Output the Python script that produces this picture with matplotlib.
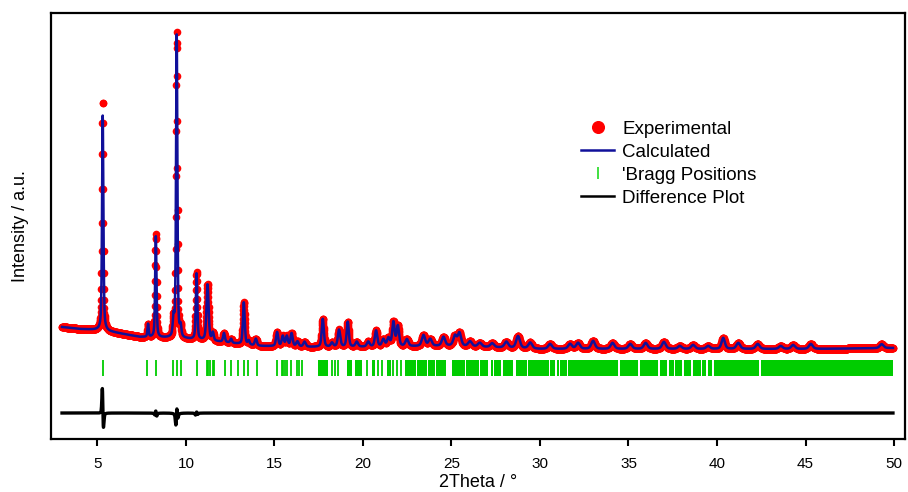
import numpy as np
import matplotlib
matplotlib.use('Agg')
import matplotlib.pyplot as plt
from matplotlib.lines import Line2D

plt.rcParams['font.family'] = ['Liberation Sans', 'DejaVu Sans']

# scan of the measurement (2theta / deg)
scan_start = 3.0
scan_end = 49.94
scan_step = 0.01

# refined background, anchor points
bg_pos = [3, 4, 5, 5.5, 7.4, 9, 10, 12, 14, 17, 20, 25, 30, 35, 40, 45, 50]
bg_int = [112, 110, 109, 108, 102, 101, 100, 97, 93, 92, 92, 93, 90, 90, 90, 90, 91]

# reflections: position, calculated height, fwhm
peak_pos = [5.30, 7.86, 8.30, 9.30, 9.48, 9.70, 10.60, 11.22, 11.52, 12.15,
            12.55, 13.27, 13.55, 13.95, 15.15, 15.47, 15.70, 15.97, 16.30, 16.70,
            17.73, 18.25, 18.65, 19.14, 19.65, 20.30, 20.74, 21.15, 21.44, 21.72,
            21.97, 22.48, 23.42, 23.80, 24.55, 25.20, 25.45, 26.05, 26.60, 27.30,
            28.10, 28.76, 29.45, 30.57, 31.70, 32.15, 33.00, 34.10, 35.10, 35.97,
            37.00, 37.90, 38.65, 39.50, 40.35, 41.20, 42.30, 43.60, 44.30, 45.30,
            49.30]
peak_height = [215, 13, 101, 18, 303, 10, 66, 56, 8, 9,
               4, 42, 4, 7, 14, 10, 10, 13, 5, 5,
               28, 4, 17, 25, 5, 5, 16, 7, 8, 24,
               20, 7, 11, 7, 9, 10, 13, 5, 4, 4,
               6, 12, 6, 5, 5, 6, 8, 6, 5, 6,
               7, 3, 4, 3, 11, 6, 5, 3, 4, 5,
               4]
peak_fwhm = [0.09, 0.08, 0.09, 0.10, 0.09, 0.10, 0.10, 0.14, 0.12, 0.12,
             0.12, 0.12, 0.12, 0.14, 0.14, 0.14, 0.14, 0.14, 0.16, 0.16,
             0.14, 0.16, 0.16, 0.14, 0.18, 0.18, 0.16, 0.18, 0.18, 0.16,
             0.16, 0.2, 0.22, 0.22, 0.22, 0.22, 0.22, 0.25, 0.25, 0.25,
             0.25, 0.25, 0.25, 0.25, 0.25, 0.25, 0.25, 0.25, 0.25, 0.25,
             0.25, 0.25, 0.25, 0.25, 0.22, 0.25, 0.25, 0.25, 0.25, 0.25,
             0.25]

# where the observed peaks depart from the fit
misfit_pos = [5.30, 8.30, 9.48, 10.60]
misfit_shift = [-0.005, -0.0005, 0.001, 0.0005]
misfit_dh = [15, 2, 3, 1]

# Bragg reflections: single ticks and dense runs of ticks
bragg_single = [5.30, 7.82, 8.31, 9.25, 9.48, 9.70, 10.60, 11.17, 11.27, 11.36,
                11.51, 11.59, 12.21, 12.53, 12.96, 13.28, 13.53, 14.00, 15.17, 15.41,
                15.50, 15.60, 15.69, 15.92, 16.26, 16.41, 16.54, 18.24, 18.43, 18.61,
                20.25, 20.87, 21.06, 21.72, 21.91, 22.14]
bragg_runs = [(17.48, 18.05), (19.09, 19.37), (19.56, 19.93), (20.50, 20.69),
              (21.35, 21.57), (22.38, 23.00), (23.05, 23.60), (23.65, 24.05),
              (24.10, 24.70), (25.02, 25.75), (25.80, 26.55), (26.60, 27.05),
              (27.22, 27.35), (27.40, 27.79), (27.90, 28.50), (28.65, 29.25),
              (29.35, 29.75), (29.80, 30.20), (30.25, 30.50), (30.55, 30.85),
              (30.98, 31.10), (31.15, 31.52), (31.60, 34.42), (34.53, 35.55),
              (35.65, 36.68), (36.78, 37.20), (37.28, 37.55), (37.65, 38.05),
              (38.15, 38.52), (38.62, 39.10), (39.18, 39.40), (39.47, 39.73),
              (39.81, 42.40), (42.47, 49.93)]

diff_offset = 26
bragg_lo, bragg_hi = 63, 79


def pseudo_voigt(x, pos, h, fwhm, eta=0.5):
    d = (x - pos) / fwhm
    lor = 1.0 / (1.0 + 4 * d ** 2)
    gau = np.exp(-4 * np.log(2) * d ** 2)
    return h * (eta * lor + (1 - eta) * gau)


tth = np.round(np.arange(scan_start, scan_end + scan_step / 2, scan_step), 3)
calc = np.interp(tth, bg_pos, bg_int).astype(float)
for p, h, w in zip(peak_pos, peak_height, peak_fwhm):
    calc += pseudo_voigt(tth, p, h, w)

obs = calc.copy()
for p, s, dh in zip(misfit_pos, misfit_shift, misfit_dh):
    i = peak_pos.index(p)
    h, w = peak_height[i], peak_fwhm[i]
    obs += pseudo_voigt(tth, p + s, h + dh, w * 0.95) - pseudo_voigt(tth, p, h, w)
diff = obs - calc

fig = plt.figure(figsize=(9.08, 4.92), dpi=100)
ax = fig.add_axes([0.0562, 0.1077, 0.9405, 0.8659])

ax.plot(tth, obs, 'o', color='#ff0000', ms=5.5, mec='none', zorder=2)
ax.plot(tth, calc, '-', color='#10109a', lw=1.8, zorder=3)
ax.vlines(bragg_single, bragg_lo, bragg_hi, color='#00cc00', lw=1.3)
ax.broken_barh([(a, b - a) for a, b in bragg_runs], (bragg_lo, bragg_hi - bragg_lo),
               facecolor='#00cc00', edgecolor='none')
ax.plot(tth, diff + diff_offset, '-', color='black', lw=2.4)

ax.set_xlim(2.38, 50.62)
ax.set_ylim(0, 426)
ax.set_xticks(np.arange(5, 51, 5))
ax.set_yticks([])
ax.tick_params(axis='x', direction='out', length=5, width=1.5, pad=8, labelsize=11)
for sp in ax.spines.values():
    sp.set_linewidth(1.6)
ax.set_xlabel('2Theta / °', fontsize=13, labelpad=2)
ax.set_ylabel('Intensity / a.u.', fontsize=13, labelpad=16)

handles = [
    Line2D([], [], marker='o', ls='none', color='#ff0000', ms=8.4),
    Line2D([], [], color='#10109a', lw=1.8),
    Line2D([], [], marker='|', ls='none', color='#33dd33', ms=9, mew=1.3),
    Line2D([], [], color='black', lw=1.8),
]
labels = ['Experimental', 'Calculated', "'Bragg Positions", 'Difference Plot']
ax.legend(handles, labels, loc='upper left', bbox_to_anchor=(0.630, 0.774),
          bbox_transform=fig.transFigure, frameon=False, fontsize=13.5,
          handlelength=1.76, handletextpad=0.43, labelspacing=0.31, borderpad=0)

fig.savefig('out.png', dpi=100)
